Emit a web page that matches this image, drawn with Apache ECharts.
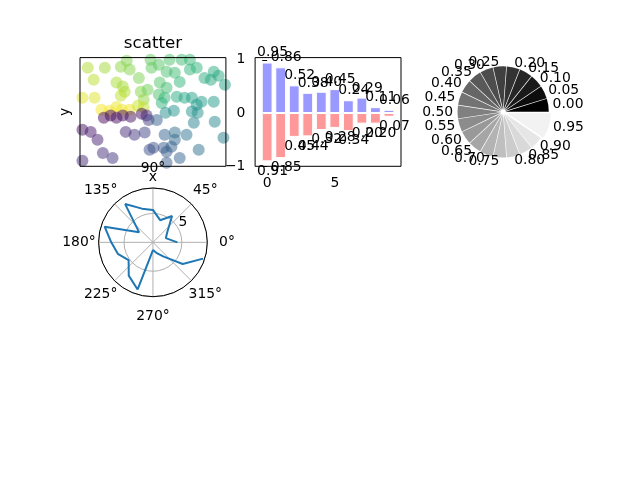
<!DOCTYPE html>
<html><head><meta charset="utf-8">
<script src="https://cdn.jsdelivr.net/npm/echarts@6/dist/echarts.min.js"></script>
<style>html,body{margin:0;padding:0;background:#fff}#c{width:640px;height:480px}</style>
</head><body><div id="c"></div>
<script>
// ---------- data ----------
const scatterX = [
 -1.34,-0.99,-1.22,-1.45,-1.20,-0.75,-0.62,-0.66,-0.48,-0.29,-0.25,-0.11,-0.03,-0.05,-0.66,-0.58,-0.19,-0.54,
 -1.06,-0.89,-0.75,-0.64,-0.48,-0.31,-0.19,
 -1.01,-0.87,-0.75,-0.62,-0.46,-0.23,-0.13,
 0.34,0.59,0.76,0.12,0.28,0.45,0.76,0.90,1.06,1.19,1.25,1.35,1.48,0.14,0.28,0.12,0.24,0.18,0.55,0.49,0.65,0.80,0.90,1.00,1.25,
 0.26,0.43,0.80,0.92,
 -0.09,0.08,-1.45,-1.28,-1.14,-0.56,-0.38,-0.17,-1.03,-0.83,-0.07,-1.45,0.84,1.27,1.45,0.24,0.45,0.45,0.69,0.22,0.28,0.38,0.01,0.55,0.94,0.94,1.17,0.28];
const scatterY = [
 1.22,1.22,0.89,0.39,0.39,0.81,0.70,1.25,1.17,0.94,0.56,0.61,1.22,1.44,0.45,0.56,0.34,1.41,
 0.06,0.03,0.14,0.06,0.06,0.17,0.12,
 -0.16,-0.10,-0.16,-0.10,-0.13,-0.05,-0.10,
 1.44,1.44,1.44,1.30,1.11,1.08,1.17,1.22,0.94,0.89,1.11,1.00,0.75,0.81,0.67,0.48,0.39,0.25,0.83,0.42,0.39,0.39,0.20,0.28,0.28,
 -0.02,0.03,0.01,-0.02,
 -0.22,-0.22,-0.49,-0.55,-0.77,-0.55,-0.63,-0.57,-1.13,-1.27,-1.04,-1.35,-0.30,-0.27,-0.71,-0.63,-0.57,-0.77,-0.63,-0.99,-1.10,-0.96,-0.99,-1.27,-1.04,-1.51,-1.51,-1.40];

const barX = [0,1,2,3,4,5,6,7,8,9];
const barUp = [0.95,0.86,0.52,0.38,0.40,0.45,0.24,0.29,0.11,0.06];
const barDown = [0.91,0.85,0.45,0.44,0.32,0.28,0.34,0.20,0.20,0.07];
const barXTicks = [0,5];
const barYTicks = [-1,0,1];

const pieLabels = ['0.00','0.05','0.10','0.15','0.20','0.25','0.30','0.35','0.40','0.45',
                   '0.50','0.55','0.60','0.65','0.70','0.75','0.80','0.85','0.90','0.95'];
const pieValues = [1,1,1,1,1,1,1,1,1,1,1,1,1,1,1,1,1,1,1,2];
const pieExplode = [0.05,0.05,0.05,0.05,0.05,0.05,0.05,0.05,0.05,0.05,
                    0.05,0.05,0.05,0.05,0.05,0.05,0.05,0.05,0.05,0.10];

const polarTheta = [0,18,36,54,72,90,108,126,144,162,180,198,216,234,252,270,288,306,324,342];
const polarR = [4.22,2.34,3.07,5.62,4.03,5.61,6.13,8.18,2.95,8.79,7.21,6.39,5.20,7.12,8.57,1.33,1.90,3.01,6.36,9.11];
const angleTicks = [0,45,90,135,180,225,270,315];
const radialTicks = [5];

// ---------- layout ----------
const FONT = 'DejaVu Sans';
const FS = 13.9;
const AX_W = 145.9, AX_H = 108.7;
const L1 = 80, L2 = 255.1, L3 = 430.2;
const T1 = 57.6, T2 = 188.0;
const R_MAX = 9.4;
const POLAR_R = AX_H / 2;
const POLAR_C = [L1 + AX_W / 2, T2 + AX_H / 2];
const LABEL_R = 74;
const PIE_R = AX_H / 2.5;
const PIE_C = [L3 + AX_W / 2, T1 + AX_H / 2];
const BAR_XMIN = -0.89, BAR_XMAX = 9.89;
const BAR_PX = AX_W / (BAR_XMAX - BAR_XMIN);   // pixels per x unit
const BAR_YMIN = -1.003, BAR_YMAX = 1.043;
const BAR_PY = AX_H / (BAR_YMAX - BAR_YMIN);

const viridis = ['#440154','#482878','#3e4989','#31688e','#26828e','#1f9e89','#35b779','#6ece58','#b5de2b','#fde725'];

const txt = {fontFamily: FONT, fontSize: FS, color: '#000', opacity: 1};
const hiddenAxis = {axisLine: {show: false}, axisTick: {show: false}, axisLabel: {show: false}, splitLine: {show: false}};

// one pie series per distinct explode offset (same angular layout, other slices transparent)
const explodeLevels = [...new Set(pieExplode)];
const pieSeries = explodeLevels.map(ex => ({
  type: 'pie', center: PIE_C, radius: PIE_R, startAngle: 0, clockwise: false,
  avoidLabelOverlap: false, silent: true, selectedMode: 'multiple', selectedOffset: ex * PIE_R,
  label: {show: true, position: 'outside', distanceToLabelLine: 0, ...txt},
  labelLine: {show: false, length: 0.1 * PIE_R, length2: 0},
  labelLayout: {hideOverlap: false},
  emphasis: {disabled: true},
  select: {itemStyle: {borderWidth: 0}},
  data: pieLabels.map((n, i) => {
    const g = Math.round(parseFloat(n) * 255);
    const mine = pieExplode[i] === ex;
    return {
      name: n, value: pieValues[i], selected: mine,
      itemStyle: {color: mine ? `rgb(${g},${g},${g})` : 'rgba(0,0,0,0)', borderWidth: 0},
      label: {show: mine}
    };
  })
}));

const chart = echarts.init(document.getElementById('c'), null, {renderer: 'canvas'});
const option = {
  animation: false,
  backgroundColor: '#fff',
  textStyle: {fontFamily: FONT},
  graphic: [{
    type: 'text', x: L1 + AX_W / 2, y: 43.5, z: 20,
    style: {text: 'scatter', fill: '#000', font: '16.7px "DejaVu Sans"', align: 'center', verticalAlign: 'middle'}
  }],
  grid: [
    {left: L1, top: T1, width: AX_W, height: AX_H, show: true, z: 10, borderColor: '#000', borderWidth: 1,
     backgroundColor: 'transparent', containLabel: false, outerBoundsMode: 'none'},
    {left: L2, top: T1, width: AX_W, height: AX_H, show: true, z: 10, borderColor: '#000', borderWidth: 1,
     backgroundColor: 'transparent', containLabel: false, outerBoundsMode: 'none'}
  ],
  xAxis: [
    {gridIndex: 0, type: 'value', min: -1.5, max: 1.5, ...hiddenAxis,
     name: 'x', nameLocation: 'middle', nameGap: 4, nameTextStyle: txt},
    {gridIndex: 1, type: 'value', min: BAR_XMIN, max: BAR_XMAX,
     axisLine: {show: false}, splitLine: {show: false},
     axisTick: {show: true, customValues: barXTicks, length: 4.9, lineStyle: {color: '#000', width: 1}},
     axisLabel: {show: true, customValues: barXTicks, margin: 9.7, ...txt}}
  ],
  yAxis: [
    {gridIndex: 0, type: 'value', min: -1.5, max: 1.5, ...hiddenAxis,
     name: 'y', nameLocation: 'middle', nameGap: 8, nameRotate: 90, nameTextStyle: txt},
    {gridIndex: 1, type: 'value', min: BAR_YMIN, max: BAR_YMAX,
     axisLine: {show: false}, splitLine: {show: false},
     axisTick: {show: true, customValues: barYTicks, length: 4.9, lineStyle: {color: '#000', width: 1}},
     axisLabel: {show: true, customValues: barYTicks, margin: 9.7, ...txt,
                 formatter: v => (v < 0 ? '\u2212' + Math.abs(v) : String(v))}}
  ],
  polar: [
    {center: POLAR_C, radius: POLAR_R},
    {center: POLAR_C, radius: LABEL_R}
  ],
  angleAxis: [
    {polarIndex: 0, type: 'value', min: 0, max: 360, interval: 45, startAngle: 0, clockwise: false, z: 5,
     axisLine: {show: true, lineStyle: {color: '#000', width: 1}},
     axisTick: {show: false}, axisLabel: {show: false},
     splitLine: {show: true, lineStyle: {color: '#b0b0b0', width: 1}}},
    {polarIndex: 1, type: 'value', min: 0, max: 360, startAngle: 0, clockwise: false, ...hiddenAxis}
  ],
  radiusAxis: [
    {polarIndex: 0, type: 'value', min: 0, max: R_MAX, interval: 5,
     axisLine: {show: false}, axisTick: {show: false}, axisLabel: {show: false},
     splitLine: {show: true, lineStyle: {color: '#b0b0b0', width: 1}}},
    {polarIndex: 1, type: 'value', min: 0, max: 1, ...hiddenAxis}
  ],
  visualMap: {type: 'continuous', show: false, seriesIndex: 0, dimension: 2,
    min: -Math.PI, max: Math.PI, inRange: {color: viridis}},
  series: [
    {type: 'scatter', xAxisIndex: 0, yAxisIndex: 0, symbolSize: 12, clip: true,
     itemStyle: {opacity: 0.5},
     data: scatterX.map((x, i) => [x, scatterY[i], Math.atan2(scatterY[i], x)])},
    {type: 'bar', xAxisIndex: 1, yAxisIndex: 1, barWidth: 0.8 * BAR_PX, barGap: '-100%',
     itemStyle: {color: '#9999ff', borderColor: '#fff', borderWidth: 1},
     label: {show: true, position: 'top', distance: 0.05 * BAR_PY, ...txt,
             formatter: p => p.value[1].toFixed(2)},
     labelLayout: {hideOverlap: false, dx: 0.4 * BAR_PX},
     data: barX.map((x, i) => [x, barUp[i]])},
    {type: 'bar', xAxisIndex: 1, yAxisIndex: 1, barWidth: 0.8 * BAR_PX, barGap: '-100%',
     itemStyle: {color: '#ff9999', borderColor: '#fff', borderWidth: 1},
     label: {show: true, position: 'bottom', distance: 0.05 * BAR_PY, ...txt,
             formatter: p => Math.abs(p.value[1]).toFixed(2)},
     labelLayout: {hideOverlap: false, dx: 0.4 * BAR_PX},
     data: barX.map((x, i) => [x, -barDown[i]])},
    ...pieSeries,
    {type: 'line', coordinateSystem: 'polar', polarIndex: 0, symbol: 'none', z: 6,
     lineStyle: {color: '#1f77b4', width: 2},
     data: polarR.map((r, i) => [r, polarTheta[i]])},
    {type: 'scatter', coordinateSystem: 'polar', polarIndex: 1, symbolSize: 1, silent: true, z: 7,
     itemStyle: {color: 'rgba(0,0,0,0)', opacity: 1},
     label: {show: true, position: 'inside', ...txt, formatter: p => p.value[1] + '\u00b0'},
     labelLayout: {hideOverlap: false},
     data: angleTicks.map(a => [1, a])},
    {type: 'scatter', coordinateSystem: 'polar', polarIndex: 0, symbolSize: 1, silent: true, z: 7,
     itemStyle: {color: 'rgba(0,0,0,0)', opacity: 1},
     label: {show: true, position: 'inside', offset: [3.3, -8.6], ...txt, formatter: p => String(p.value[0])},
     data: radialTicks.map(r => [r, 22.5])}
  ]
};
chart.setOption(option);
</script></body></html>
